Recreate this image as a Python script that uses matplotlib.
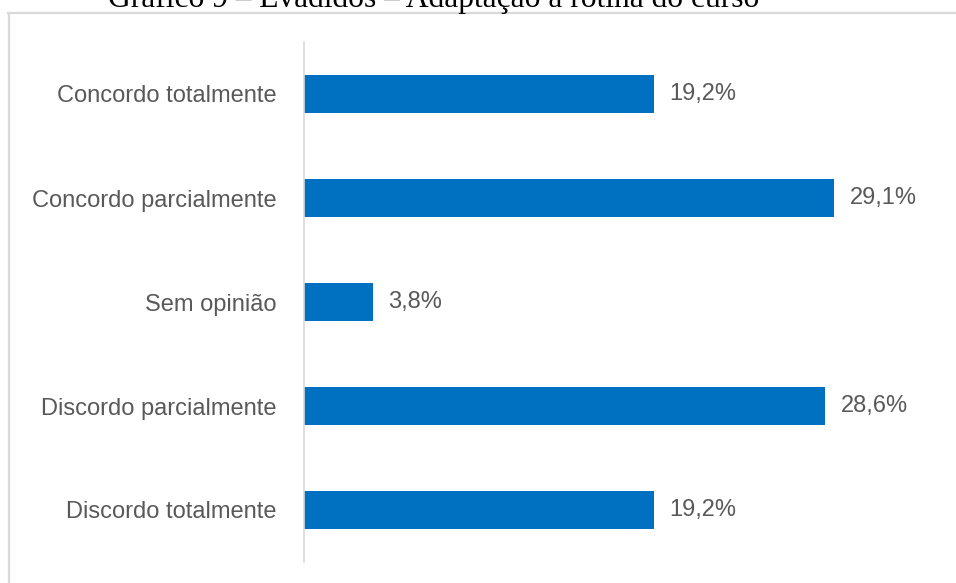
import matplotlib.pyplot as plt
from matplotlib.lines import Line2D

# dados do gráfico
categorias = ["Concordo totalmente", "Concordo parcialmente", "Sem opinião",
              "Discordo parcialmente", "Discordo totalmente"]
valores = [19.2, 29.1, 3.8, 28.6, 19.2]
titulo = "Gráfico 9 – Evadidos – Adaptação à rotina do curso"

W, H = 956, 583
fig = plt.figure(figsize=(W / 100, H / 100), dpi=100)
fig.patch.set_facecolor("white")

# moldura cinza (cortada à direita e embaixo)
fig.add_artist(Line2D([8 / W, 1], [1 - 13 / H, 1 - 13 / H], color="#D9D9D9",
                      lw=1.6, transform=fig.transFigure))
fig.add_artist(Line2D([9 / W, 9 / W], [0, 1 - 13 / H], color="#D9D9D9",
                      lw=1.6, transform=fig.transFigure))

# título (parcialmente fora da imagem)
fig.text(433.5 / W, 1 - 7 / H, titulo, ha="center", va="baseline",
         fontsize=22.7, family="Liberation Serif", color="black")

ax = fig.add_axes([304 / W, 1 - 562 / H, (942 - 304) / W, (562 - 42) / H])
y = range(len(categorias))
ax.barh(y, valores, height=0.356, color="#0070C0")
ax.set_xlim(0, 35)
ax.set_ylim(-0.5, len(categorias) - 0.5)
ax.invert_yaxis()

ax.set_yticks(list(y))
ax.set_yticklabels(categorias, fontsize=17, color="#595959", family="Liberation Sans")
ax.tick_params(axis="y", length=0, pad=20)
ax.xaxis.set_visible(False)

for s in ["top", "right", "bottom"]:
    ax.spines[s].set_visible(False)
ax.spines["left"].set_color("#D9D9D9")
ax.spines["left"].set_linewidth(1.2)

for i, v in enumerate(valores):
    ax.annotate(f"{v:.1f}".replace(".", ",") + "%", xy=(v, i), xytext=(11, 0),
                textcoords="offset points", va="center", ha="left",
                fontsize=17, color="#595959", family="Liberation Sans")

fig.savefig("out.png", dpi=100)
